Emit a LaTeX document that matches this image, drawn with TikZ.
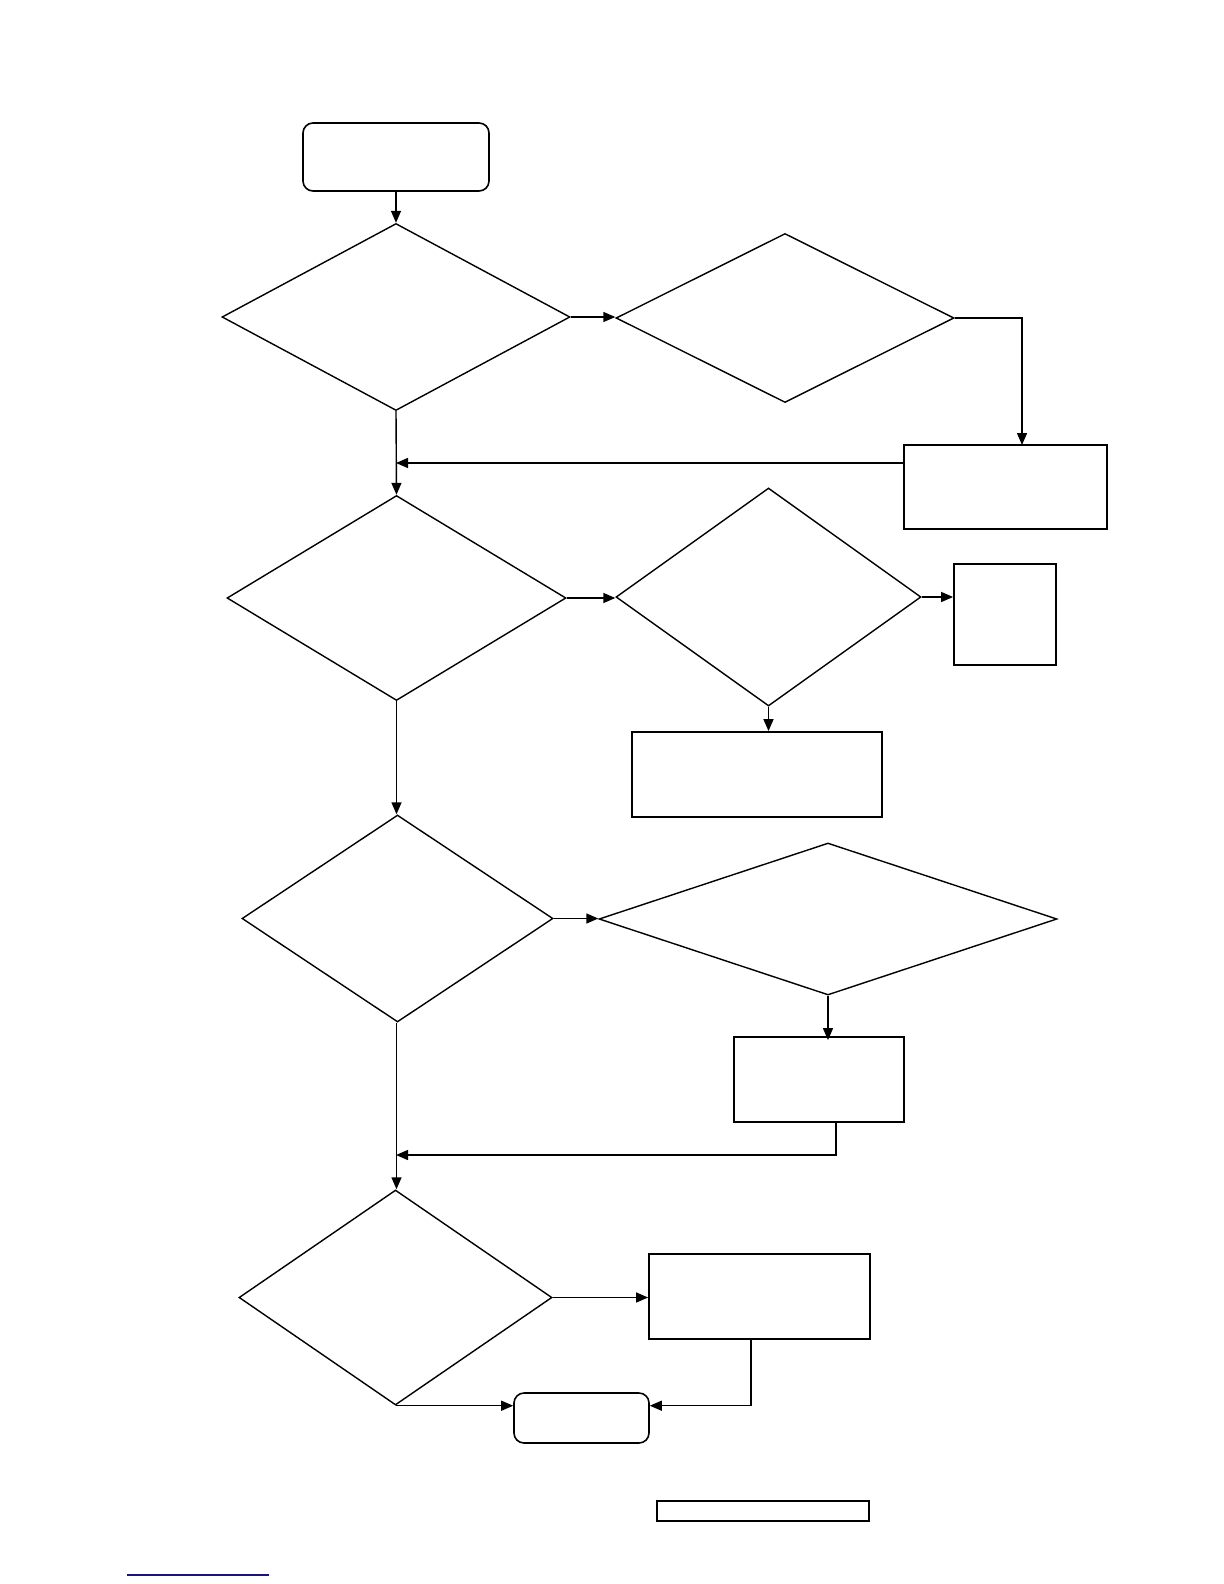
\documentclass[tikz,border=0pt]{standalone}
\usetikzlibrary{shapes.geometric,arrows.meta}
\definecolor{navyline}{RGB}{20,20,130}
\tikzset{
  dec/.style={draw,diamond,inner sep=0pt,line width=0.7pt},
  box/.style={draw,rectangle,inner sep=0pt,line width=0.9pt},
  term/.style={draw,rectangle,rounded corners=5pt,inner sep=0pt,line width=0.8pt},
  conn/.style={line width=0.7pt,-{Triangle[length=6pt,width=5pt]}},
  plain/.style={line width=0.7pt}
}
\begin{document}
\begin{tikzpicture}[x=0.5pt,y=-0.5pt]
\useasboundingbox[fill=white] (0,0) rectangle (1224,1584);
% nodes (positions in px of the 1224x1584 page)
\node[term,minimum width=93pt,minimum height=34pt] (start) at (396,157) {};
\node[dec,minimum width=174pt,minimum height=93.5pt] (d1) at (396,317) {};
\node[dec,minimum width=169pt,minimum height=84.5pt] (d2) at (785,318) {};
\node[box,minimum width=101.5pt,minimum height=42pt] (r1) at (1005.5,487) {};
\node[dec,minimum width=169.5pt,minimum height=102.5pt] (d3) at (396.5,598) {};
\node[dec,minimum width=152.5pt,minimum height=109pt] (d4) at (768.5,597) {};
\node[box,minimum width=51pt,minimum height=50.5pt] (r2) at (1005,614.5) {};
\node[box,minimum width=125pt,minimum height=42.5pt] (r3) at (757,774.5) {};
\node[dec,minimum width=155.5pt,minimum height=103.5pt] (d5) at (397.5,918.5) {};
\node[dec,minimum width=229pt,minimum height=76pt] (d6) at (828,919) {};
\node[box,minimum width=85pt,minimum height=42.5pt] (r4) at (819,1079.5) {};
\node[dec,minimum width=156.5pt,minimum height=107.5pt] (d7) at (395.5,1297.5) {};
\node[box,minimum width=110.5pt,minimum height=42.5pt] (r5) at (759.5,1296.5) {};
\node[term,minimum width=67.5pt,minimum height=25pt] (end) at (581.5,1418) {};
\node[box,line width=0.7pt,minimum width=106pt,minimum height=10pt] (note) at (763,1511) {};
% helper coordinates
\coordinate (r1top) at (1022,445);
\coordinate (r1w) at (904,463);
\coordinate (j1) at (396,463);
\coordinate (r4b) at (836,1122);
\coordinate (j2) at (396,1155);
\coordinate (r5b) at (751,1339);
\coordinate (la) at (127,1575);
\coordinate (lb) at (269,1575);
% connectors
\draw[conn] (start.south) -- (d1.north);
\draw[conn] (d1.east) -- (d2.west |- d1.east);
\draw[conn] (d2.east) -| (r1top);
\draw[conn] (r1w) -- (j1);
\draw[conn] (d1.south) -- (d3.north);
\draw[conn] (d3.east) -- (d4.west |- d3.east);
\draw[conn] (d4.east) -- (r2.west |- d4.east);
\draw[conn] (d4.south) -- (d4.south |- r3.north);
\draw[conn] (d3.south) -- (d3.south |- d5.north);
\draw[conn] (d5.east) -- (d6.west |- d5.east);
\draw[conn] (d6.south) -- ([yshift=-2pt]d6.south |- r4.north);
\draw[conn] (r4b) |- (j2);
\draw[conn] (d5.south -| d3.south) -- (d7.north -| d3.south);
\draw[conn] (d7.east) -- (r5.west |- d7.east);
\draw[conn] (d7.south) -- (end.west |- d7.south);
\draw[conn] (r5b) |- (end.east |- d7.south);
\draw[navyline,line width=0.8pt] (la) -- (lb);
\end{tikzpicture}
\end{document}
